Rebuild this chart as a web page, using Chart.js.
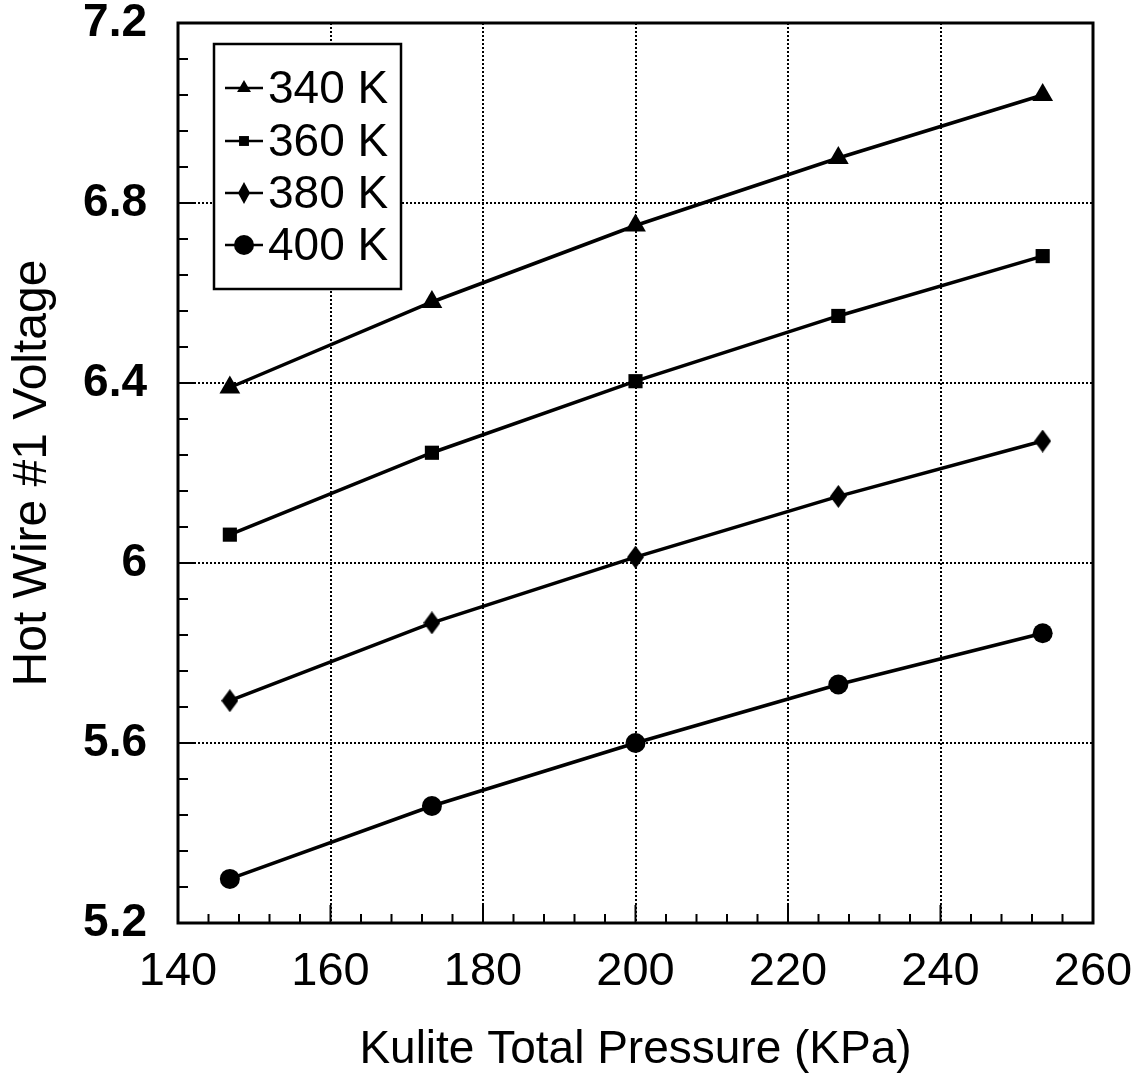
<!DOCTYPE html>
<html>
<head>
<meta charset="utf-8">
<title>Hot Wire #1 Voltage</title>
<script src="https://cdn.jsdelivr.net/npm/chart.js@4.4.0/dist/chart.umd.min.js"></script>
<style>
  html, body { margin: 0; padding: 0; background: #fff; }
  #wrap { width: 1148px; height: 1082px; }
</style>
</head>
<body>
<div id="wrap"><canvas id="chart" width="1148" height="1082"></canvas></div>
<script>
'use strict';

// values
const pressure = [146.8, 173.3, 200, 226.6, 253.4];
const v340 = [6.39, 6.58, 6.75, 6.90, 7.04];
const v360 = [6.063, 6.245, 6.404, 6.549, 6.682];
const v380 = [5.694, 5.867, 6.013, 6.148, 6.271];
const v400 = [5.298, 5.46, 5.60, 5.73, 5.844];
const seriesNames = ['340 K', '360 K', '380 K', '400 K'];

const xTicks = [140, 160, 180, 200, 220, 240, 260];
const yTicks = [5.2, 5.6, 6, 6.4, 6.8, 7.2];
const xMinorStep = 4;
const yMinorStep = 0.08;

const FONT = "'Liberation Sans', Arial, Helvetica, sans-serif";

// tall diamond marker, the built in rectRot is too squat
function diamond(w, h) {
  const c = document.createElement('canvas');
  c.width = w; c.height = h;
  const ctx = c.getContext('2d');
  ctx.fillStyle = '#000';
  ctx.beginPath();
  ctx.moveTo(w / 2, 0);
  ctx.lineTo(w, h / 2);
  ctx.lineTo(w / 2, h);
  ctx.lineTo(0, h / 2);
  ctx.closePath();
  ctx.fill();
  return c;
}

const markers = [
  {style: 'triangle', radius: 12, legendRadius: 8},
  {style: 'rect', radius: 10, legendRadius: 7},
  {style: diamond(17, 23), radius: 10, legendStyle: diamond(12, 22), legendRadius: 10},
  {style: 'circle', radius: 10, legendRadius: 10}
];

const values = [v340, v360, v380, v400];
const datasets = values.map((vals, i) => ({
  label: seriesNames[i],
  data: vals.map((v, j) => ({x: pressure[j], y: v})),
  borderColor: '#000',
  backgroundColor: '#000',
  borderWidth: 3.5,
  pointStyle: markers[i].style,
  pointRadius: markers[i].radius,
  pointHoverRadius: markers[i].radius,
  pointBorderWidth: 0,
  tension: 0
}));

const frameAndLegend = {
  id: 'frameAndLegend',
  afterDraw(chart) {
    const ctx = chart.ctx;
    const a = chart.chartArea;
    const xs = chart.scales.x;
    const ys = chart.scales.y;

    ctx.save();
    ctx.strokeStyle = '#000';
    ctx.lineWidth = 2;
    ctx.setLineDash([]);

    // inward tick marks on bottom and left
    ctx.beginPath();
    for (let v = xTicks[0]; v <= xTicks[xTicks.length - 1] + 0.001; v += xMinorStep) {
      const px = xs.getPixelForValue(v);
      const major = Math.abs((v - xTicks[0]) % 20) < 0.001;
      ctx.moveTo(px, a.bottom);
      ctx.lineTo(px, a.bottom - (major ? 18 : 9));
    }
    for (let k = 0; k <= 25; k++) {
      const v = yTicks[0] + k * yMinorStep;
      const py = ys.getPixelForValue(v);
      ctx.moveTo(a.left, py);
      ctx.lineTo(a.left + (k % 5 === 0 ? 18 : 10), py);
    }
    ctx.stroke();

    // plot frame
    ctx.lineWidth = 3;
    ctx.strokeRect(a.left, a.top, a.right - a.left, a.bottom - a.top);

    // legend box
    const bx = 214, by = 44, bw = 187, bh = 245;
    ctx.fillStyle = '#fff';
    ctx.fillRect(bx, by, bw, bh);
    ctx.lineWidth = 2.5;
    ctx.strokeRect(bx, by, bw, bh);

    ctx.font = '46px ' + FONT;
    ctx.textBaseline = 'middle';
    ctx.textAlign = 'left';
    ctx.fillStyle = '#000';
    const rowY = [88, 141, 193, 245];
    datasets.forEach((ds, i) => {
      const y = rowY[i];
      ctx.lineWidth = 2.5;
      ctx.beginPath();
      ctx.moveTo(225, y);
      ctx.lineTo(263, y);
      ctx.stroke();
      const m = markers[i];
      Chart.helpers.drawPoint(ctx, {
        pointStyle: m.legendStyle || m.style,
        radius: m.legendRadius,
        rotation: 0,
        borderWidth: 0
      }, 244, y);
      ctx.fillText(ds.label, 268, y + 2);
    });
    ctx.restore();
  }
};

const chart = new Chart(document.getElementById('chart'), {
  type: 'line',
  data: {datasets: datasets},
  plugins: [frameAndLegend],
  options: {
    responsive: false,
    animation: false,
    layout: {autoPadding: false, padding: {top: 23, right: 55, bottom: 0, left: 0}},
    plugins: {
      legend: {display: false},
      tooltip: {enabled: false}
    },
    scales: {
      x: {
        type: 'linear',
        min: 140,
        max: 260,
        afterBuildTicks: s => { s.ticks = xTicks.map(v => ({value: v})); },
        afterFit: s => {
          s.height = 159;
          s.paddingLeft = 0;
          s.paddingRight = 0;
        },
        grid: {color: '#000', lineWidth: 2, drawTicks: false},
        border: {display: false, dash: [2, 2]},
        ticks: {
          color: '#000',
          padding: 26,
          maxRotation: 0,
          font: {family: FONT, size: 47, lineHeight: 1},
          callback: v => String(v)
        },
        title: {
          display: true,
          text: 'Kulite Total Pressure (KPa)',
          color: '#000',
          font: {family: FONT, size: 46},
          padding: {top: 0, bottom: 4}
        }
      },
      y: {
        type: 'linear',
        min: 5.2,
        max: 7.2,
        afterBuildTicks: s => { s.ticks = yTicks.map(v => ({value: v})); },
        afterFit: s => {
          s.width = 178;
          s.paddingTop = 0;
          s.paddingBottom = 0;
        },
        grid: {color: '#000', lineWidth: 2, drawTicks: false},
        border: {display: false, dash: [2, 2]},
        ticks: {
          color: '#000',
          padding: 31,
          font: {family: FONT, size: 46, weight: 'bold', lineHeight: 0.9},
          callback: v => String(Number(v.toFixed(2)))
        },
        title: {
          display: true,
          text: 'Hot Wire #1 Voltage',
          color: '#000',
          font: {family: FONT, size: 48},
          padding: {top: 4, bottom: 0}
        }
      }
    }
  }
});
</script>
</body>
</html>
